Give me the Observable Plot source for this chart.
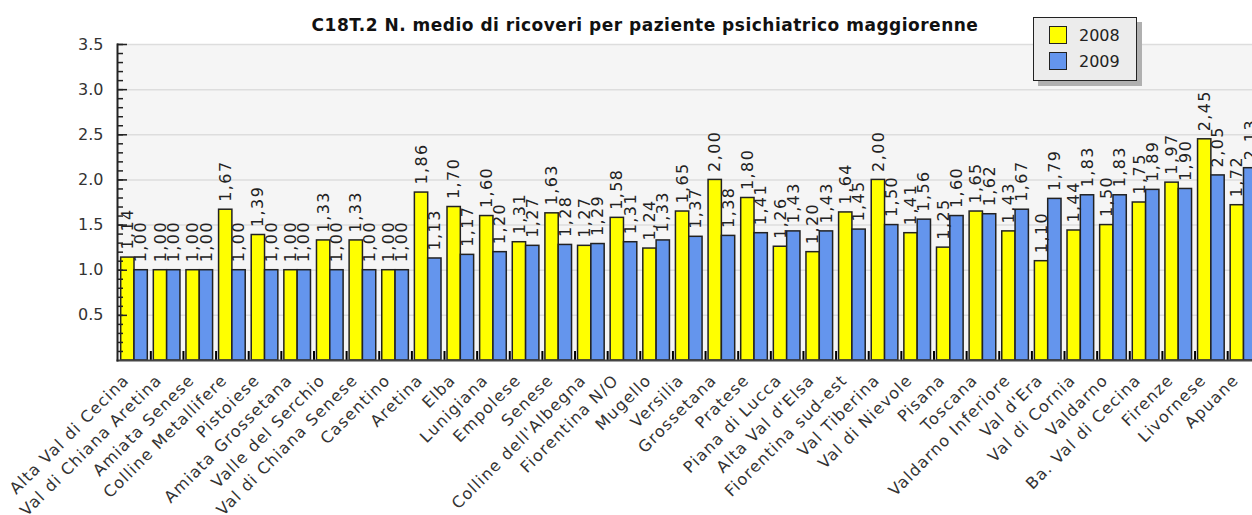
<!DOCTYPE html>
<html>
<head>
<meta charset="utf-8">
<script src="https://cdn.jsdelivr.net/npm/d3@7"></script>
<script src="https://cdn.jsdelivr.net/npm/@observablehq/plot@0.6"></script>
<style>
  html, body { margin: 0; padding: 0; background: #fff; overflow: hidden; }
  #wrap { position: relative; width: 1252px; height: 515px; font-family: "DejaVu Sans", Verdana, sans-serif; }
  #title { position: absolute; left: 0; width: 1290px; top: 17px; text-align: center; font-weight: bold; font-size: 17px; letter-spacing: 0.5px; line-height: 17px; color: #111; white-space: nowrap; }
  #legend { position: absolute; left: 1033px; top: 17px; width: 102px; height: 62px; background: #ececec; border: 1.5px solid #222; box-shadow: 5px 5px 0 #b0b0b0; }
  .item { position: absolute; left: 15px; height: 18px; display: flex; align-items: center; font-size: 16px; color: #222; }
  .sw { width: 16px; height: 16px; border: 1.5px solid #222; margin-right: 12px; }
  .xlab text { letter-spacing: 1.2px; }
  .vlab text { letter-spacing: 1.4px; }
</style>
</head>
<body>
<div id="wrap">
  <div id="chart"></div>
  <div id="title">C18T.2 N. medio di ricoveri per paziente psichiatrico maggiorenne</div>
  <div id="legend"></div>
</div>
<script>
const categories = ["Alta Val di Cecina","Val di Chiana Aretina","Amiata Senese","Colline Metallifere","Pistoiese","Amiata Grossetana","Valle del Serchio","Val di Chiana Senese","Casentino","Aretina","Elba","Lunigiana","Empolese","Senese","Colline dell'Albegna","Fiorentina N/O","Mugello","Versilia","Grossetana","Pratese","Piana di Lucca","Alta Val d'Elsa","Fiorentina sud-est","Val Tiberina","Val di Nievole","Pisana","Toscana","Valdarno Inferiore","Val d'Era","Val di Cornia","Valdarno","Ba. Val di Cecina","Firenze","Livornese","Apuane"];
const values2008 = [1.14,1.00,1.00,1.67,1.39,1.00,1.33,1.33,1.00,1.86,1.70,1.60,1.31,1.63,1.27,1.58,1.24,1.65,2.00,1.80,1.26,1.20,1.64,2.00,1.41,1.25,1.65,1.43,1.10,1.44,1.50,1.75,1.97,2.45,1.72];
const values2009 = [1.00,1.00,1.00,1.00,1.00,1.00,1.00,1.00,1.00,1.13,1.17,1.20,1.27,1.28,1.29,1.31,1.33,1.37,1.38,1.41,1.43,1.43,1.45,1.50,1.56,1.60,1.62,1.67,1.79,1.83,1.83,1.89,1.90,2.05,2.13];
const years = ["2008", "2009"];
const colors = ["#ffff00", "#6495ed"];
const yMajorTicks = [0.5, 1.0, 1.5, 2.0, 2.5, 3.0, 3.5];
const yMinorTicks = d3.range(1, 36).map(i => i / 10);

const data = categories.map((c, i) => ({cat: c, v2008: values2008[i], v2009: values2009[i]}));
const fmt = v => v.toFixed(2).replace(".", ",");

const xRange = [117, 1260.5];
const padIn = 0.184, padOut = 0.113;
const band = d3.scaleBand().domain(categories).range(xRange).paddingInner(padIn).paddingOuter(padOut);
const half = band.bandwidth() / 2;

const chart = Plot.plot({
  width: 1252,
  height: 515,
  marginTop: 44,
  marginBottom: 155,
  marginLeft: 117,
  marginRight: 0,
  style: {fontFamily: "DejaVu Sans, Verdana, sans-serif", background: "transparent", overflow: "visible"},
  x: {domain: categories, range: xRange, paddingInner: padIn, paddingOuter: padOut, round: false, label: null},
  y: {domain: [0, 3.5], label: null},
  marks: [
    Plot.frame({fill: "#f5f5f5", stroke: null}),
    Plot.gridY(yMajorTicks, {stroke: "#dddddd", strokeOpacity: 1, strokeWidth: 1.5}),
    Plot.barY(data, {x: "cat", y: "v2008", fill: colors[0], stroke: "#222", strokeWidth: 1.5, insetRight: half}),
    Plot.barY(data, {x: "cat", y: "v2009", fill: colors[1], stroke: "#222", strokeWidth: 1.5, insetLeft: half}),
    Plot.text(data, {x: "cat", y: "v2008", text: d => fmt(d.v2008), rotate: -90, textAnchor: "start", dx: -half / 2, dy: -8, fontSize: 16, fill: "#222", className: "vlab"}),
    Plot.text(data, {x: "cat", y: "v2009", text: d => fmt(d.v2009), rotate: -90, textAnchor: "start", dx: half / 2, dy: -8, fontSize: 16, fill: "#222", className: "vlab"}),
    Plot.axisX({tickSize: -9, dx: band.step() / 2, tickFormat: () => "", stroke: "#000", strokeWidth: 2}),
    Plot.axisX({tickSize: 0, tickPadding: 17, tickRotate: -45, dx: -8, fontSize: 16, fill: "#333", label: null, className: "xlab"}),
    Plot.frame({anchor: "bottom", stroke: "#444", strokeWidth: 2}),
    Plot.axisY({ticks: yMinorTicks, tickSize: -6, tickFormat: () => "", stroke: "#222", strokeWidth: 1.5}),
    Plot.axisY({ticks: yMajorTicks, tickSize: -10, tickFormat: () => "", stroke: "#222", strokeWidth: 1.5}),
    Plot.axisY({ticks: yMajorTicks, tickSize: 0, tickPadding: 14, tickFormat: d => d.toFixed(1), fontSize: 16, fill: "#333", label: null}),
    Plot.frame({anchor: "left", stroke: "#222", strokeWidth: 2})
  ]
});
document.getElementById("chart").appendChild(chart);

const legend = document.getElementById("legend");
years.forEach((y, i) => {
  const item = document.createElement("div");
  item.className = "item";
  item.style.top = (8 + i * 26) + "px";
  item.innerHTML = `<div class="sw" style="background:${colors[i]}"></div><span>${y}</span>`;
  legend.appendChild(item);
});
</script>
</body>
</html>
